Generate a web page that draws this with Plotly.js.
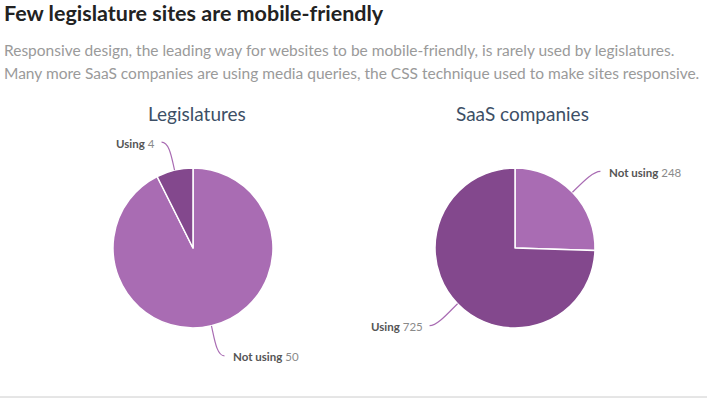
<!DOCTYPE html>
<html>
<head>
<meta charset="utf-8">
<script src="https://cdn.plot.ly/plotly-3.0.1.min.js"></script>
<style>html,body{margin:0;padding:0;background:#fff;}#chart{width:707px;height:398px;}</style>
</head>
<body>
<div id="chart"></div>
<script>
// ---- data ----
const chartTitle = "Few legislature sites are mobile-friendly";
const subtitleLines = [
  "Responsive design, the leading way for websites to be mobile-friendly, is rarely used by legislatures.",
  "Many more SaaS companies are using media queries, the CSS technique used to make sites responsive."
];
const pieTitles = ["Legislatures", "SaaS companies"];
const sliceLabels = ["Not using", "Using"];
const legislatureValues = [50, 4];
const saasValues = [248, 725];
const sliceColors = ["#a96cb3", "#83488d"];

// ---- layout helpers ----
const W = 707, H = 398;
const px = x => x / W;
const py = y => 1 - y / H;
const R = 80;
const pieCenters = [[193, 248], [515, 248]];
// label leader offsets (style): per pie, per slice [dx, dy]
const labelOffsets = [
  [[13, 30], [-13, -28]],
  [[28, -21], [-28, 22]]
];
const allValues = [legislatureValues, saasValues];

const traces = allValues.map((vals, i) => {
  const [cx, cy] = pieCenters[i];
  return {
    type: 'pie',
    labels: sliceLabels,
    values: vals,
    sort: false,
    direction: 'clockwise',
    rotation: 0,
    textinfo: 'none',
    hoverinfo: 'label+value',
    marker: {colors: sliceColors, line: {color: '#ffffff', width: 1.5}},
    domain: {x: [px(cx - R), px(cx + R)], y: [py(cy + R), py(cy - R)]},
    showlegend: false
  };
});

const annotations = [];
const shapes = [];

annotations.push({
  text: '<b>' + chartTitle + '</b>', xref: 'paper', yref: 'paper',
  x: px(2), y: py(13), xanchor: 'left', yanchor: 'middle', showarrow: false,
  font: {family: 'Lato, sans-serif', size: 21.5, color: '#222222'}
});
subtitleLines.forEach((t, k) => {
  annotations.push({
    text: t, xref: 'paper', yref: 'paper',
    x: px(2), y: py(50 + k * 23), xanchor: 'left', yanchor: 'middle', showarrow: false,
    font: {family: 'Lato, sans-serif', size: 15.5, color: '#9a9a9a'}
  });
});
pieTitles.forEach((t, i) => {
  annotations.push({
    text: t, xref: 'paper', yref: 'paper',
    x: px(pieCenters[i][0] + 4 + i * 3), y: py(113), xanchor: 'center', yanchor: 'middle', showarrow: false,
    font: {family: 'Lato, sans-serif', size: 19, color: '#3d4f66'}
  });
});

// leader lines + labels from data angles (slices drawn clockwise from top)
allValues.forEach((vals, i) => {
  const [cx, cy] = pieCenters[i];
  const total = vals.reduce((a, b) => a + b, 0);
  let start = 0;
  vals.forEach((v, j) => {
    const sweep = v / total * 360;
    const mid = (start + sweep / 2) * Math.PI / 180; // clockwise from top
    start += sweep;
    const ux = Math.sin(mid), uy = -Math.cos(mid);
    const ex = cx + R * ux, ey = cy + R * uy;
    const [dx, dy] = labelOffsets[i][j];
    const lx = ex + dx, ly = ey + dy;
    const left = dx < 0;
    const hdir = left ? 1 : -1;
    const c1x = lx + hdir * 8, c1y = ly;
    const c2x = ex + ux * 12, c2y = ey + uy * 12;
    shapes.push({
      type: 'path', xref: 'paper', yref: 'paper',
      path: `M ${px(lx)} ${py(ly)} C ${px(c1x)} ${py(c1y)}, ${px(c2x)} ${py(c2y)}, ${px(ex)} ${py(ey)}`,
      line: {color: '#a96cb3', width: 1.2}
    });
    annotations.push({
      text: `<b>${sliceLabels[j]}</b> <span style="color:#8a8a8a">${v}</span>`,
      xref: 'paper', yref: 'paper',
      x: px(lx + (left ? -5 : 7)), y: py(ly + 1), xanchor: left ? 'right' : 'left', yanchor: 'middle',
      showarrow: false,
      font: {family: 'Lato, sans-serif', size: 11.5, color: '#555555'}
    });
  });
});

shapes.push({
  type: 'line', xref: 'paper', yref: 'paper',
  x0: 0, x1: 1, y0: py(397), y1: py(397),
  line: {color: '#cccccc', width: 1}
});

const layout = {
  width: W, height: H,
  margin: {l: 0, r: 0, t: 0, b: 0},
  paper_bgcolor: '#ffffff',
  plot_bgcolor: '#ffffff',
  annotations: annotations,
  shapes: shapes,
  showlegend: false
};

Plotly.newPlot('chart', traces, layout, {displayModeBar: false, staticPlot: true});
</script>
</body>
</html>
